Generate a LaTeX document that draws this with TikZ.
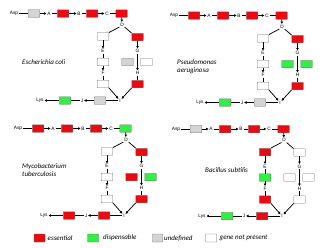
\documentclass[tikz,border=0pt]{standalone}
\usepackage{fontspec}
\setmainfont{Liberation Sans}
\newfontfamily\calfont{Carlito}
\usetikzlibrary{arrows.meta}
\definecolor{essc}{HTML}{EA0A12}
\definecolor{disc}{HTML}{33EE44}
\definecolor{undc}{HTML}{D4D4D4}
\definecolor{nprc}{HTML}{FFFFFF}
\definecolor{boxb}{HTML}{6E6E6E}
\tikzset{
  box/.style={draw=boxb, line width=0.4pt, minimum width=11.5pt, minimum height=7.5pt, inner sep=0pt, rounded corners=0.4pt},
  ess/.style={box, fill=essc},
  dis/.style={box, fill=disc},
  und/.style={box, fill=undc},
  npr/.style={box, fill=nprc},
  lab/.style={font=\fontsize{4.8}{5}\selectfont, inner sep=0.7pt},
  ln/.style={line width=0.75pt},
  ar/.style={line width=0.75pt, -{Triangle[length=2.4pt,width=2.4pt]}},
  sp/.style={font=\calfont\itshape\fontsize{7}{8.5}\selectfont, align=left, anchor=west, inner sep=0pt},
}
\def\pathway#1#2#3#4#5#6#7#8#9{\def\pwcA{#1}\def\pwcB{#2}\def\pwcC{#3}\def\pwcD{#4}%
  \def\pwcE{#5}\def\pwcF{#6}\def\pwcG{#7}\def\pwcH{#8}\def\pwcI{#9}\pathwayrest}
\def\pathwayrest#1#2#3#4{%
  \node[lab] (asp) at (14,13.5) {Asp};
  \node[\pwcA] (b1) at (34,13.5) {};
  \node[lab] (a) at (49,13.5) {A};
  \node[\pwcB] (b2) at (63,13.5) {};
  \node[lab] (b) at (79,13.5) {B};
  \node[\pwcC] (b3) at (92,13.5) {};
  \node[lab] (c) at (107,13.5) {C};
  \node[\pwcD] (b4) at (121.5,13.5) {};
  \node[lab] (d) at (122,24.5) {D};
  \node[\pwcE] (b5) at (103,36.5) {};
  \node[lab] (e) at (103,51) {E};
  \node[\pwcF] (b7) at (103,62) {};
  \node[lab] (f) at (103,73) {F};
  \node[\pwcG] (b10) at (103,84) {};
  \node[\pwcH] (b6) at (137.5,37) {};
  \node[lab] (g) at (137.5,51) {G};
  \node[\pwcI] (b8) at (127.5,62) {};
  \node[#1] (b9) at (146.5,62) {};
  \node[lab] (h) at (137.5,73) {H};
  \node[#2] (b11) at (137.5,84) {};
  \node[lab] (i) at (120,100.5) {I};
  \node[#3] (b12) at (100,100.5) {};
  \node[lab] (j) at (82,100.5) {J};
  \node[#4] (b13) at (65,100.5) {};
  \node[lab] (lys) at (40,100.5) {Lys};
  \draw[ln] (asp) -- (b1); \draw[ar] (b1) -- (a);
  \draw[ln] (a) -- (b2); \draw[ar] (b2) -- (b);
  \draw[ln] (b) -- (b3); \draw[ar] (b3) -- (c);
  \draw[ln] (c) -- (b4); \draw[ar] (b4) -- (d);
  \draw[ln] (d.south west) -- (b5.north east); \draw[ar] (b5) -- (e);
  \draw[ln] (e) -- (b7); \draw[ar] (b7) -- (f);
  \draw[ln] (f) -- (b10); \draw[ar] (b10.south east) -- (i);
  \draw[ln] (d.south east) -- (b6.north west); \draw[ar] (b6) -- (g);
  \draw[ar] (g) -- (h);
  \draw[ln] (h) -- (b11); \draw[ar] (b11.south west) -- (i);
  \draw[ln] (i) -- (b12); \draw[ar] (b12) -- (j);
  \draw[ln] (j) -- (b13); \draw[ar] (b13) -- (lys);
}
\begin{document}
\begin{tikzpicture}[x=1pt,y=-1pt]
\fill[white] (0,0) rectangle (330,247);
\useasboundingbox (0,0) rectangle (330,247);
\begin{scope}[name prefix=p1-]
  \pathway{und}{ess}{ess}{ess}{npr}{npr}{npr}{ess}{und}{npr}{ess}{und}{dis}
  \node[sp] (sp1) at (22,62) {Escherichia coli};
\end{scope}
\begin{scope}[shift={(160,2)}, name prefix=p2-]
  \pathway{ess}{ess}{ess}{ess}{npr}{npr}{npr}{ess}{dis}{dis}{ess}{und}{dis}
\end{scope}
\node[sp] (sp2) at (177,66.5) {Pseudomonas\\aeruginosa};
\begin{scope}[shift={(4,115)}, name prefix=p3-]
  \pathway{ess}{ess}{ess}{dis}{npr}{npr}{npr}{ess}{ess}{dis}{ess}{ess}{ess}
\end{scope}
\node[sp] (sp3) at (22,170) {Mycobacterium\\tuberculosis};
\begin{scope}[shift={(162,115.5)}, name prefix=p4-]
  \pathway{und}{ess}{ess}{ess}{ess}{dis}{ess}{npr}{npr}{npr}{npr}{ess}{dis}
\end{scope}
\node[sp] (sp4) at (205,170) {Bacillus subtilis};
% legend
\node[ess, minimum width=11pt, minimum height=8pt] (l1) at (39.5,238) {};
\node[sp] (t1) at (47.5,238) {essential};
\node[dis, minimum width=11pt, minimum height=8pt] (l2) at (93,238) {};
\node[sp] (t2) at (103,238) {dispensable};
\node[und, minimum width=10pt, minimum height=8pt] (l3) at (157.5,238) {};
\node[sp] (t3) at (164,238) {undefined};
\node[npr, minimum width=11pt, minimum height=8pt] (l4) at (211,238) {};
\node[sp] (t4) at (219.5,238) {gene not present};
\end{tikzpicture}
\end{document}
